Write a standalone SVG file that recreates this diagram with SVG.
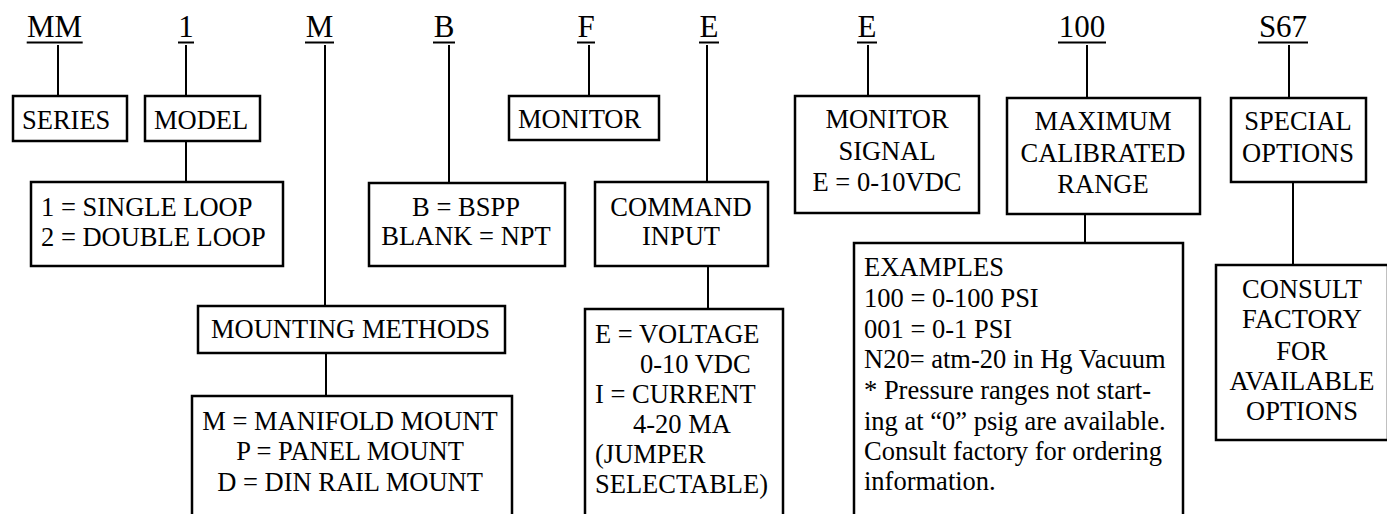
<svg xmlns="http://www.w3.org/2000/svg" width="1387" height="514" viewBox="0 0 1387 514" font-family="'Liberation Serif', serif">
<style>
.lbl{font-size:31px;text-anchor:middle}
.t{font-size:26.5px}
.c{text-anchor:middle}
.box{fill:#fff;stroke:#000;stroke-width:2.5}
.ln{stroke:#000;stroke-width:2;fill:none}
</style>
<rect x="0" y="0" width="1387" height="514" fill="#fff"/>
<g id="connectors">
<line class="ln" x1="58" y1="45" x2="58" y2="96"/>
<line class="ln" x1="186" y1="45" x2="186" y2="96"/>
<line class="ln" x1="186" y1="141" x2="186" y2="182"/>
<line class="ln" x1="325" y1="45" x2="325" y2="306"/>
<line class="ln" x1="326" y1="353" x2="326" y2="396"/>
<line class="ln" x1="449" y1="45" x2="449" y2="183"/>
<line class="ln" x1="589" y1="45" x2="589" y2="96"/>
<line class="ln" x1="707" y1="45" x2="707" y2="182"/>
<line class="ln" x1="708" y1="266" x2="708" y2="309"/>
<line class="ln" x1="868" y1="45" x2="868" y2="96"/>
<line class="ln" x1="1087" y1="45" x2="1087" y2="98"/>
<line class="ln" x1="1085" y1="214" x2="1085" y2="243"/>
<line class="ln" x1="1289" y1="45" x2="1289" y2="98"/>
<line class="ln" x1="1293" y1="182" x2="1293" y2="265"/>
</g>
<g id="labels">
<text class="lbl" x="54.5" y="37">MM</text><line class="ln" x1="26.7" y1="42.5" x2="82.7" y2="42.5"/>
<text class="lbl" x="186" y="37">1</text><line class="ln" x1="178" y1="42.5" x2="194" y2="42.5"/>
<text class="lbl" x="319.5" y="37">M</text><line class="ln" x1="305" y1="42.5" x2="334" y2="42.5"/>
<text class="lbl" x="444" y="37">B</text><line class="ln" x1="433" y1="42.5" x2="455" y2="42.5"/>
<text class="lbl" x="586" y="37">F</text><line class="ln" x1="577" y1="42.5" x2="595" y2="42.5"/>
<text class="lbl" x="709" y="37">E</text><line class="ln" x1="699" y1="42.5" x2="719" y2="42.5"/>
<text class="lbl" x="867" y="37">E</text><line class="ln" x1="857" y1="42.5" x2="877" y2="42.5"/>
<text class="lbl" x="1082" y="37">100</text><line class="ln" x1="1058" y1="42.5" x2="1106" y2="42.5"/>
<text class="lbl" x="1283" y="37">S67</text><line class="ln" x1="1258" y1="42.5" x2="1308" y2="42.5"/>
</g>
<g id="series"><rect class="box" x="13" y="96" width="114" height="45"/><text class="t" x="22" y="129">SERIES</text></g>
<g id="model"><rect class="box" x="145" y="96" width="115" height="45"/><text class="t" x="154" y="129">MODEL</text></g>
<g id="loop"><rect class="box" x="31" y="182" width="252" height="84"/><text class="t" x="41" y="216">1 = SINGLE LOOP</text><text class="t" x="41" y="246">2 = DOUBLE LOOP</text></g>
<g id="mounting"><rect class="box" x="198" y="306" width="307" height="47"/><text class="t" x="211" y="338">MOUNTING METHODS</text></g>
<g id="mountopts"><rect class="box" x="192" y="396" width="320" height="130"/><text class="t c" x="350" y="430">M = MANIFOLD MOUNT</text><text class="t c" x="350" y="460">P = PANEL MOUNT</text><text class="t c" x="350" y="491">D = DIN RAIL MOUNT</text></g>
<g id="port"><rect class="box" x="369" y="183" width="196" height="83"/><text class="t c" x="466" y="216">B = BSPP</text><text class="t c" x="466" y="245">BLANK = NPT</text></g>
<g id="monitor"><rect class="box" x="509" y="96" width="150" height="44"/><text class="t" x="518" y="128">MONITOR</text></g>
<g id="command"><rect class="box" x="595" y="182" width="173" height="84"/><text class="t c" x="681" y="216">COMMAND</text><text class="t c" x="681" y="245">INPUT</text></g>
<g id="cmdopts"><rect class="box" x="585" y="309" width="198" height="217"/><text class="t" x="595" y="343">E = VOLTAGE</text><text class="t" x="640" y="373">0-10 VDC</text><text class="t" x="595" y="403">I = CURRENT</text><text class="t" x="633" y="433">4-20 MA</text><text class="t" x="595" y="463">(JUMPER</text><text class="t" x="595" y="493">SELECTABLE)</text></g>
<g id="monsignal"><rect class="box" x="795" y="96" width="184" height="117"/><text class="t c" x="887" y="128">MONITOR</text><text class="t c" x="887" y="160">SIGNAL</text><text class="t c" x="887" y="191">E = 0-10VDC</text></g>
<g id="range"><rect class="box" x="1007" y="98" width="193" height="116"/><text class="t c" x="1103" y="130">MAXIMUM</text><text class="t c" x="1103" y="162">CALIBRATED</text><text class="t c" x="1103" y="193">RANGE</text></g>
<g id="examples"><rect class="box" x="854" y="243" width="329" height="283"/><text class="t" x="864" y="276">EXAMPLES</text><text class="t" x="864" y="307">100 = 0-100 PSI</text><text class="t" x="864" y="338">001 = 0-1 PSI</text><text class="t" x="864" y="368">N20= atm-20 in Hg Vacuum</text><text class="t" x="864" y="399">* Pressure ranges not start-</text><text class="t" x="864" y="430">ing at “0” psig are available.</text><text class="t" x="864" y="460">Consult factory for ordering</text><text class="t" x="864" y="490">information.</text></g>
<g id="special"><rect class="box" x="1231" y="98" width="135" height="84"/><text class="t c" x="1298" y="130">SPECIAL</text><text class="t c" x="1298" y="162">OPTIONS</text></g>
<g id="consult"><rect class="box" x="1216" y="265" width="172" height="175"/><text class="t c" x="1302" y="298">CONSULT</text><text class="t c" x="1302" y="328">FACTORY</text><text class="t c" x="1302" y="360">FOR</text><text class="t c" x="1302" y="390">AVAILABLE</text><text class="t c" x="1302" y="420">OPTIONS</text></g>
</svg>
